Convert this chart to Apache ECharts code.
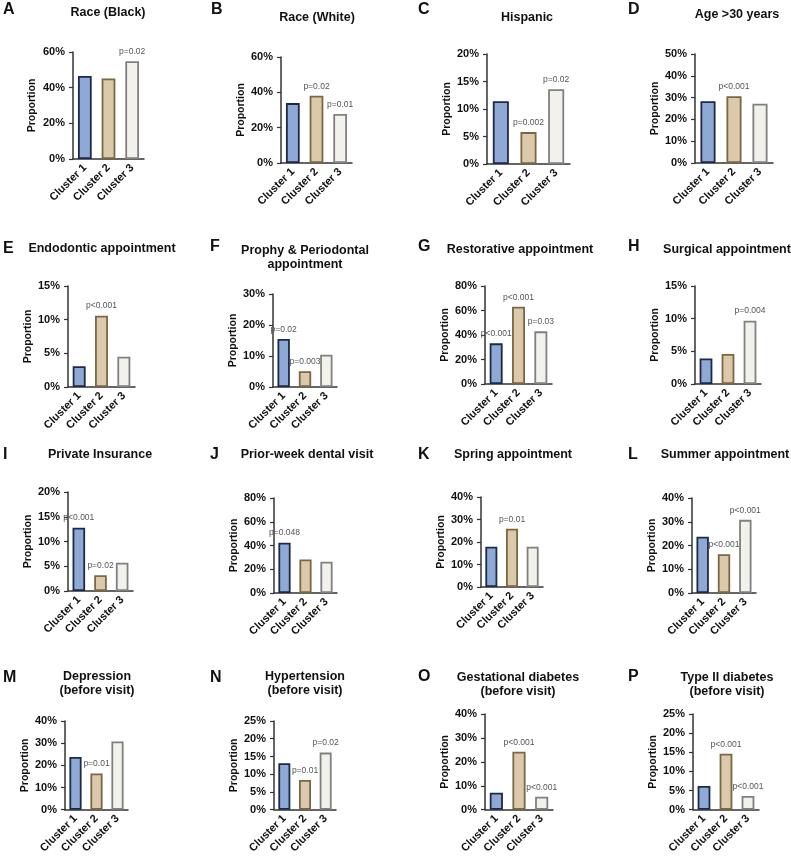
<!DOCTYPE html>
<html>
<head>
<meta charset="utf-8">
<script src="https://cdn.jsdelivr.net/npm/echarts@6/dist/echarts.min.js"></script>
<style>
  html, body { margin: 0; padding: 0; background: #fff; }
  #main { width: 791px; height: 856px; }
</style>
</head>
<body>
<div id="main"></div>
<script>
// panel data
var letters = ['A','B','C','D','E','F','G','H','I','J','K','L','M','N','O','P'];
var titles = ['Race (Black)', 'Race (White)', 'Hispanic', 'Age >30 years',
  'Endodontic appointment', 'Prophy & Periodontal\nappointment', 'Restorative appointment', 'Surgical appointment',
  'Private Insurance', 'Prior-week dental visit', 'Spring appointment', 'Summer appointment',
  'Depression\n(before visit)', 'Hypertension\n(before visit)', 'Gestational diabetes\n(before visit)', 'Type II diabetes\n(before visit)'];
var clusters = ['Cluster 1', 'Cluster 2', 'Cluster 3'];
var cluster1 = [46.6, 33.9, 11.4, 28.3, 3.1, 15.5, 33.2, 3.9, 12.8, 42.4, 17.9, 23.7, 23.8, 13.1, 7.1, 6.2];
var cluster2 = [45.1, 38.1, 5.8, 30.6, 10.6, 5.1, 63.1, 4.6, 3.2, 28.3, 25.9, 16.3, 16.3, 8.4, 24.2, 14.6];
var cluster3 = [54.8, 27.8, 13.6, 27.2, 4.5, 10.4, 43.0, 9.7, 5.7, 26.4, 17.9, 30.8, 30.8, 16.1, 5.4, 3.6];
var yMax = [60, 60, 20, 50, 15, 30, 80, 15, 20, 80, 40, 40, 40, 25, 40, 25];
var yStep = [20, 20, 5, 10, 5, 10, 20, 5, 5, 20, 10, 10, 10, 5, 10, 5];
var pLabels = [
  ['', '', 'p=0.02'],
  ['', 'p=0.02', 'p=0.01'],
  ['', 'p=0.002', 'p=0.02'],
  ['', 'p<0.001', ''],
  ['', 'p<0.001', ''],
  ['p=0.02', 'p=0.003', ''],
  ['p<0.001', 'p<0.001', 'p=0.03'],
  ['', '', 'p=0.004'],
  ['p<0.001', 'p=0.02', ''],
  ['p=0.048', '', ''],
  ['', 'p=0.01', ''],
  ['', 'p<0.001', 'p<0.001'],
  ['', 'p=0.01', ''],
  ['', 'p=0.01', 'p=0.02'],
  ['', 'p<0.001', 'p<0.001'],
  ['', 'p<0.001', 'p<0.001']
];

// layout: plot box [left, top, right, bottom], title centre, letter pos
var boxes = [
  [73, 52, 144, 159], [281, 57, 352, 163], [487, 54, 570, 164], [695, 54, 773, 163],
  [68, 286, 135, 387], [273, 294, 337, 387], [485, 286, 552, 384], [695, 286, 761, 384],
  [68, 492, 133, 591], [274, 498, 337, 593], [481, 497, 543, 587], [692, 498, 756, 593],
  [65, 721, 128, 815], [274, 721, 336, 815], [485, 714, 553, 813], [693, 714, 759, 813]
];
var titlePos = [
  [108, 13], [317, 18], [527, 18], [737, 15],
  [102, 249], [305, 258], [520, 250], [727, 250],
  [100, 455], [307, 455], [513, 455], [725, 455],
  [97, 684], [305, 684], [518, 685], [727, 685]
];
var letterPos = [
  [3, 10], [211, 10], [418, 10], [628, 10],
  [3, 249], [210, 247], [418, 247], [628, 247],
  [3, 455], [210, 455], [418, 455], [628, 455],
  [3, 678], [210, 678], [418, 677], [628, 677]
];
var nameGaps = [35, 33, 30, 30, 30, 27, 30, 31, 31, 29, 27, 28, 29, 29, 30, 29];

var barStyles = [
  { color: '#8FA9D6', borderColor: '#1D2A47', borderWidth: 1.8 },
  { color: '#DCC9AC', borderColor: '#7A6744', borderWidth: 1.8 },
  { color: '#F3F1EC', borderColor: '#808080', borderWidth: 1.8 }
];
var font = '"Liberation Sans", Arial, Helvetica, sans-serif';

var chart = echarts.init(document.getElementById('main'));
var grids = [], xAxes = [], yAxes = [], series = [], graphics = [];

letters.forEach(function (letter, i) {
  var b = boxes[i];
  grids.push({ left: b[0], top: b[1], width: b[2] - b[0], height: b[3] - b[1], containLabel: false });
  xAxes.push({
    type: 'category', gridIndex: i, data: clusters,
    axisLine: { lineStyle: { color: '#333', width: 1.5 } },
    axisTick: { alignWithLabel: true, length: 4, lineStyle: { color: '#333', width: 1.2 } },
    axisLabel: { rotate: 45, margin: 7, interval: 0, color: '#111', fontWeight: 'bold', fontSize: 11, fontFamily: font }
  });
  yAxes.push({
    type: 'value', gridIndex: i, min: 0, max: yMax[i], interval: yStep[i],
    name: 'Proportion', nameLocation: 'middle', nameGap: nameGaps[i],
    nameTextStyle: { color: '#111', fontWeight: 'bold', fontSize: 10.5, fontFamily: font },
    axisLine: { show: true, lineStyle: { color: '#333', width: 1.5 } },
    axisTick: { show: true, length: 4, lineStyle: { color: '#333', width: 1.2 } },
    splitLine: { show: false },
    axisLabel: { formatter: '{value}%', margin: 8, color: '#111', fontWeight: 'bold', fontSize: 11, fontFamily: font }
  });
  series.push({
    type: 'bar', xAxisIndex: i, yAxisIndex: i, barWidth: '58%',
    data: [cluster1[i], cluster2[i], cluster3[i]].map(function (v, k) {
      return { value: v, itemStyle: barStyles[k] };
    }),
    label: {
      show: true, position: 'top', distance: 5, color: '#555', fontSize: 8.5, fontFamily: font,
      formatter: function (p) { return pLabels[i][p.dataIndex]; }
    },
    animation: false
  });
  graphics.push({
    type: 'text', x: titlePos[i][0], y: titlePos[i][1],
    style: { text: titles[i], textAlign: 'center', textVerticalAlign: 'middle', fill: '#111',
      font: 'bold 12.5px ' + font, lineHeight: 14 }
  });
  graphics.push({
    type: 'text', x: letterPos[i][0], y: letterPos[i][1],
    style: { text: letter, textAlign: 'left', textVerticalAlign: 'middle', fill: '#111',
      font: 'bold 16px ' + font }
  });
});

chart.setOption({
  backgroundColor: '#fff',
  animation: false,
  grid: grids,
  xAxis: xAxes,
  yAxis: yAxes,
  series: series,
  graphic: graphics
});
</script>
</body>
</html>
